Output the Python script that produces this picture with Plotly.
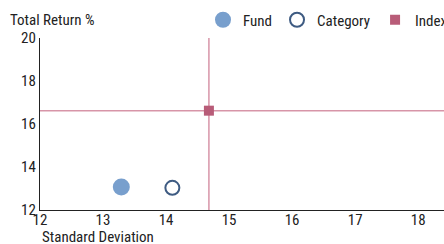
import plotly.graph_objects as go

series = ["Fund", "Category", "Index"]
std_dev = [13.29, 14.10, 14.68]
total_return = [13.07, 13.03, 16.62]
x_ticks = [12, 13, 14, 15, 16, 17, 18]
y_ticks = [12, 14, 16, 18, 20]

FONT = "Liberation Sans Narrow, Roboto Condensed, Arial Narrow, sans-serif"
X_RANGE = [12, 18.41]
Y_RANGE = [12, 20]
LINE_C = "#d795a8"
PW, PH = 404, 172

fig = go.Figure()
fig.add_trace(go.Scatter(x=[std_dev[2], std_dev[2]], y=Y_RANGE, mode="lines",
                         line=dict(color=LINE_C, width=1.5), showlegend=False, hoverinfo="skip"))
fig.add_trace(go.Scatter(x=X_RANGE, y=[total_return[2], total_return[2]], mode="lines",
                         line=dict(color=LINE_C, width=1.5), showlegend=False, hoverinfo="skip"))

fig.add_trace(go.Scatter(x=[std_dev[0]], y=[total_return[0]], mode="markers", name=series[0],
                         marker=dict(symbol="circle", size=17, color="#789fcd", line=dict(width=0))))
fig.add_trace(go.Scatter(x=[std_dev[1]], y=[total_return[1]], mode="markers", name=series[1],
                         marker=dict(symbol="circle-open", size=14, color="#3e5b82", line=dict(width=2))))
fig.add_trace(go.Scatter(x=[std_dev[2]], y=[total_return[2]], mode="markers", name=series[2],
                         marker=dict(symbol="square", size=10, color="#b85c78", line=dict(width=0))))

fig.update_layout(
    width=444, height=244,
    margin=dict(l=40, r=0, t=38, b=34, autoexpand=False),
    paper_bgcolor="white", plot_bgcolor="white",
    font=dict(family=FONT, size=15, color="#222"),
    showlegend=True,
    legend=dict(orientation="h", x=1 + 9 / PW, xanchor="right", y=1 + 18 / PH, yanchor="middle",
                font=dict(size=15), itemwidth=30, tracegroupgap=0,
                bgcolor="rgba(0,0,0,0)"),
    xaxis=dict(range=X_RANGE, tickvals=x_ticks, showgrid=False, zeroline=False,
               showline=True, linecolor="#222", linewidth=1.3, ticks="",
               ticklabelstandoff=-4, tickfont=dict(size=15)),
    yaxis=dict(range=Y_RANGE, tickvals=y_ticks, showgrid=False, zeroline=False,
               showline=True, linecolor="#222", linewidth=1.3, ticks="",
               tickfont=dict(size=15)),
    annotations=[
        dict(text="Total Return %", x=-32 / PW, y=1 + 18 / PH, xref="paper", yref="paper",
             showarrow=False, xanchor="left", yanchor="middle"),
        dict(text="Standard Deviation", x=0, y=-27 / PH, xref="paper", yref="paper",
             showarrow=False, xanchor="left", yanchor="middle"),
    ],
)
fig.write_html("out.html", config={"displayModeBar": False},
               post_script="document.body.style.margin='0';document.body.style.overflow='hidden';")
